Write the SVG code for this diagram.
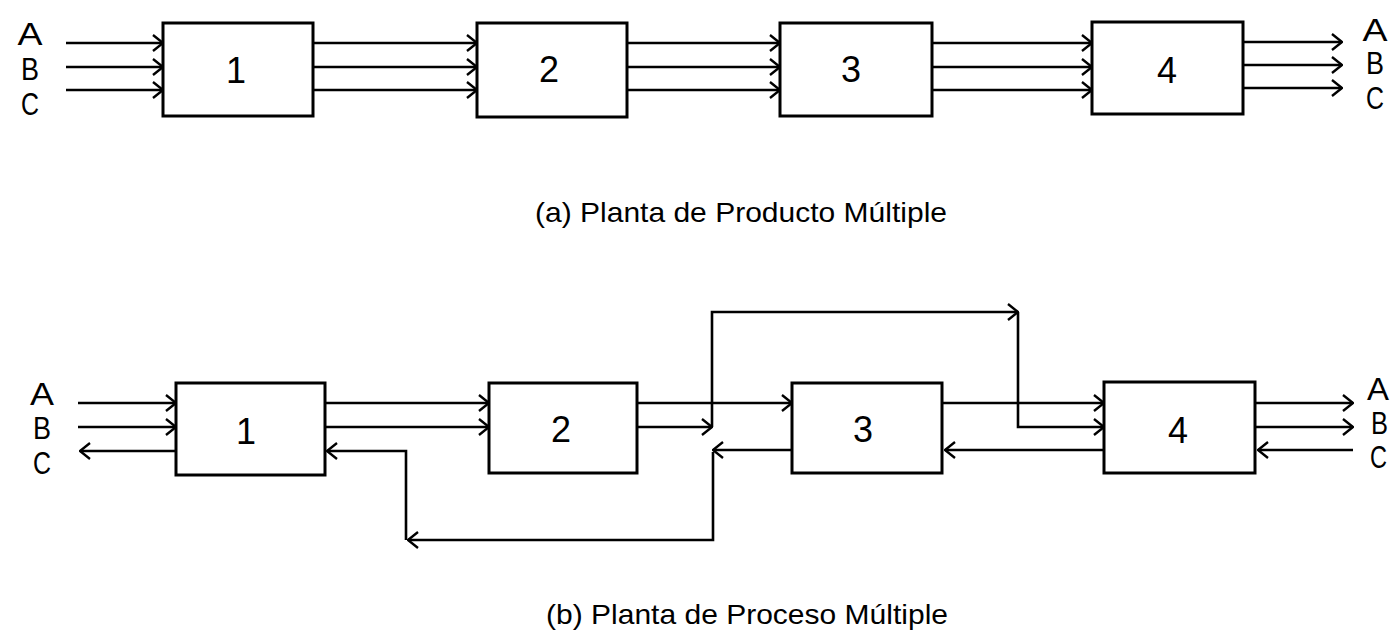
<svg xmlns="http://www.w3.org/2000/svg" width="1392" height="637" viewBox="0 0 1392 637">
<style>
.box{fill:#fff;stroke:#000;stroke-width:3}
.ln{fill:none;stroke:#000;stroke-width:2.6;stroke-linejoin:miter}
.num{font-family:"Liberation Sans",Arial,sans-serif;font-size:36px;fill:#000;text-anchor:middle}
.lbl{font-family:"Liberation Sans",Arial,sans-serif;font-size:31px;fill:#000;text-anchor:middle}
.lblr{font-family:"Liberation Sans",Arial,sans-serif;font-size:31px;fill:#000;text-anchor:end}
.cap{font-family:"Liberation Sans",Arial,sans-serif;font-size:28px;fill:#000}
</style>
<defs>
<marker id="ah" viewBox="0 0 12 18" refX="11" refY="9" markerWidth="12" markerHeight="18" markerUnits="userSpaceOnUse" orient="auto">
<path d="M1,1 L11,9 L1,17" fill="none" stroke="#000" stroke-width="2.4"/>
</marker>
</defs>
<rect width="1392" height="637" fill="#fff"/>

<g id="connectors">
<!-- (a) -->
<path class="ln" marker-end="url(#ah)" d="M66,43 L163,43"/>
<path class="ln" marker-end="url(#ah)" d="M66,67 L163,67"/>
<path class="ln" marker-end="url(#ah)" d="M66,90 L163,90"/>
<path class="ln" marker-end="url(#ah)" d="M313,43 L477,43"/>
<path class="ln" marker-end="url(#ah)" d="M313,67 L477,67"/>
<path class="ln" marker-end="url(#ah)" d="M313,90 L477,90"/>
<path class="ln" marker-end="url(#ah)" d="M627,43 L780,43"/>
<path class="ln" marker-end="url(#ah)" d="M627,67 L780,67"/>
<path class="ln" marker-end="url(#ah)" d="M627,90 L780,90"/>
<path class="ln" marker-end="url(#ah)" d="M932,43 L1092,43"/>
<path class="ln" marker-end="url(#ah)" d="M932,67 L1092,67"/>
<path class="ln" marker-end="url(#ah)" d="M932,90 L1092,90"/>
<path class="ln" marker-end="url(#ah)" d="M1243,42 L1342,42"/>
<path class="ln" marker-end="url(#ah)" d="M1243,65 L1342,65"/>
<path class="ln" marker-end="url(#ah)" d="M1243,88 L1342,88"/>
<!-- (b) -->
<path class="ln" marker-end="url(#ah)" d="M78,403 L176,403"/>
<path class="ln" marker-end="url(#ah)" d="M78,427 L176,427"/>
<path class="ln" marker-end="url(#ah)" d="M176,451 L80,451"/>
<path class="ln" marker-end="url(#ah)" d="M325,403 L489,403"/>
<path class="ln" marker-end="url(#ah)" d="M325,427 L489,427"/>
<path class="ln" marker-end="url(#ah)" d="M792,450 L713,450"/>
<path class="ln" marker-end="url(#ah)" d="M713,452 L713,540 L408,540"/>
<path class="ln" marker-end="url(#ah)" d="M406,540 L406,451 L327,451"/>
<path class="ln" marker-end="url(#ah)" d="M637,427 L712,427"/>
<path class="ln" marker-end="url(#ah)" d="M712,427 L712,312 L1018,312"/>
<path class="ln" marker-end="url(#ah)" d="M1018,312 L1018,427 L1104,427"/>
<path class="ln" marker-end="url(#ah)" d="M637,403 L792,403"/>
<path class="ln" marker-end="url(#ah)" d="M942,403 L1104,403"/>
<path class="ln" marker-end="url(#ah)" d="M1104,450 L945,450"/>
<path class="ln" marker-end="url(#ah)" d="M1255,403 L1353,403"/>
<path class="ln" marker-end="url(#ah)" d="M1255,427 L1353,427"/>
<path class="ln" marker-end="url(#ah)" d="M1353,450 L1258,450"/>
</g>

<g id="a-node-1"><rect class="box" x="163" y="23" width="150" height="93"/><text class="num" x="236" y="83">1</text></g>
<g id="a-node-2"><rect class="box" x="477" y="23" width="150" height="94"/><text class="num" x="549" y="82">2</text></g>
<g id="a-node-3"><rect class="box" x="780" y="23" width="152" height="93"/><text class="num" x="851" y="82">3</text></g>
<g id="a-node-4"><rect class="box" x="1092" y="22" width="151" height="92"/><text class="num" x="1167" y="83">4</text></g>

<g id="b-node-1"><rect class="box" x="176" y="383" width="149" height="92"/><text class="num" x="246" y="444">1</text></g>
<g id="b-node-2"><rect class="box" x="489" y="383" width="148" height="90"/><text class="num" x="561" y="442">2</text></g>
<g id="b-node-3"><rect class="box" x="792" y="383" width="150" height="90"/><text class="num" x="863" y="442">3</text></g>
<g id="b-node-4"><rect class="box" x="1104" y="382" width="151" height="91"/><text class="num" x="1178" y="443">4</text></g>

<g id="labels-a-in">
<text class="lbl" x="30" y="45" textLength="25" lengthAdjust="spacingAndGlyphs">A</text>
<text class="lbl" x="30" y="80" textLength="18" lengthAdjust="spacingAndGlyphs">B</text>
<text class="lbl" x="30" y="115" textLength="18" lengthAdjust="spacingAndGlyphs">C</text>
</g>
<g id="labels-a-out">
<text class="lbl" x="1375" y="41" textLength="25" lengthAdjust="spacingAndGlyphs">A</text>
<text class="lbl" x="1375" y="74" textLength="18" lengthAdjust="spacingAndGlyphs">B</text>
<text class="lbl" x="1375" y="109" textLength="18" lengthAdjust="spacingAndGlyphs">C</text>
</g>
<g id="labels-b-in">
<text class="lbl" x="42" y="405" textLength="24" lengthAdjust="spacingAndGlyphs">A</text>
<text class="lbl" x="42" y="439" textLength="18" lengthAdjust="spacingAndGlyphs">B</text>
<text class="lbl" x="42" y="474" textLength="18" lengthAdjust="spacingAndGlyphs">C</text>
</g>
<g id="labels-b-out">
<text class="lblr" x="1389" y="400" textLength="22" lengthAdjust="spacingAndGlyphs">A</text>
<text class="lblr" x="1388" y="434" textLength="17" lengthAdjust="spacingAndGlyphs">B</text>
<text class="lblr" x="1387" y="468" textLength="17" lengthAdjust="spacingAndGlyphs">C</text>
</g>

<text class="cap" x="535" y="222" textLength="412" lengthAdjust="spacingAndGlyphs">(a) Planta de Producto Múltiple</text>
<text class="cap" x="546" y="624" textLength="402" lengthAdjust="spacingAndGlyphs">(b) Planta de Proceso Múltiple</text>
</svg>
